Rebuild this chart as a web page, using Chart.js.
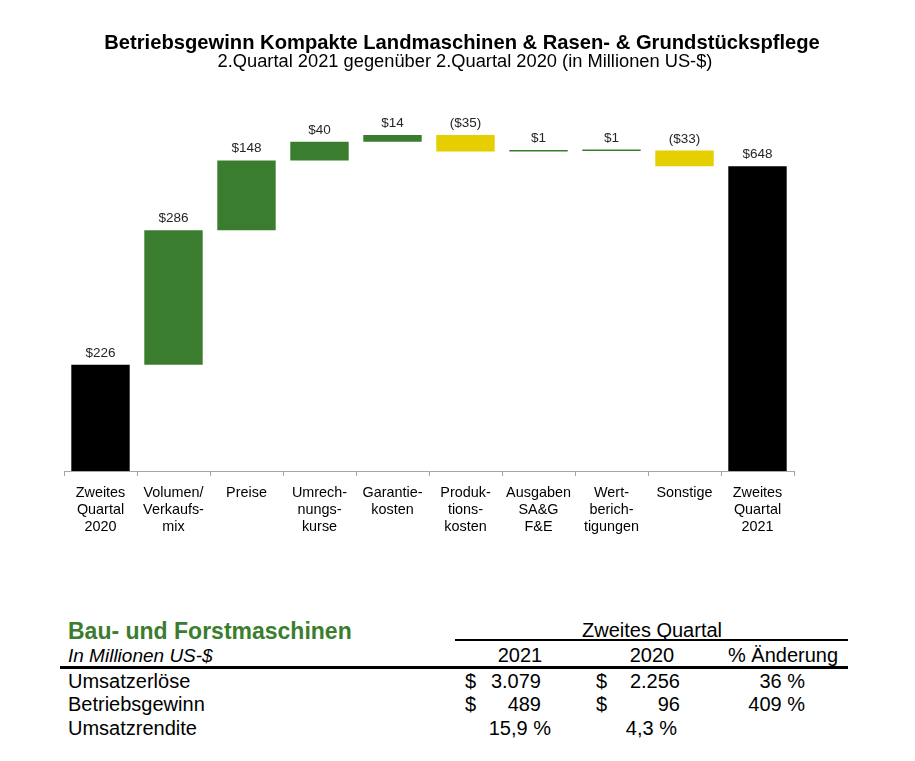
<!DOCTYPE html>
<html><head><meta charset="utf-8">
<script src="https://cdn.jsdelivr.net/npm/chart.js@4/dist/chart.umd.min.js"></script>
<style>
html,body{margin:0;padding:0;background:#fff;width:915px;height:761px;overflow:hidden;font-family:"Liberation Sans",Arial,sans-serif;color:#000}
#wrap{position:absolute;left:0;top:0;width:915px;height:545px}
.t{position:absolute;white-space:nowrap;font-size:20px;line-height:22px}
.r{text-align:right}
.c{text-align:center}
.ln{position:absolute;background:#000}
</style></head>
<body>
<div id="wrap"><canvas id="c"></canvas></div>
<div id="tbl"></div>
<script>
// ---- chart data ----
const chartTitle = "Betriebsgewinn Kompakte Landmaschinen & Rasen- & Grundstückspflege";
const chartSubtitle = "2.Quartal 2021 gegenüber 2.Quartal 2020 (in Millionen US-$)";
const categories = [
  ["Zweites","Quartal","2020"],
  ["Volumen/","Verkaufs-","mix"],
  ["Preise"],
  ["Umrech-","nungs-","kurse"],
  ["Garantie-","kosten"],
  ["Produk-","tions-","kosten"],
  ["Ausgaben","SA&G","F&E"],
  ["Wert-","berich-","tigungen"],
  ["Sonstige"],
  ["Zweites","Quartal","2021"]
];
const changes = [226, 286, 148, 40, 14, -35, 1, 1, -33, 648];
const isTotal = [true, false, false, false, false, false, false, false, false, true];
const valueLabels = ["$226","$286","$148","$40","$14","($35)","$1","$1","($33)","$648"];

// ---- table data ----
const tableTitle = "Bau- und Forstmaschinen";
const tableSubtitle = "In Millionen US-$";
const tableGroup = "Zweites Quartal";
const tableHeaders = ["2021","2020","% Änderung"];
const rowLabels = ["Umsatzerlöse","Betriebsgewinn","Umsatzrendite"];
const col2021 = ["3.079","489","15,9 %"];
const col2020 = ["2.256","96","4,3 %"];
const colChange = ["36 %","409 %",""];
const dollarSign = [true, true, false];

const GREEN = "#3b7d2e", YELLOW = "#e5cf00", BLACK = "#000000";
const FONT = '"Liberation Sans", Arial, sans-serif';

// floating ranges from the changes
let run = 0;
const ranges = [], colors = [];
changes.forEach((v,i)=>{
  if (isTotal[i]) { ranges.push([0, v]); run = v; colors.push(BLACK); }
  else { ranges.push([run, run + v]); run += v; colors.push(v >= 0 ? GREEN : YELLOW); }
});

const labelPlugin = {
  id: "vlabels",
  afterDatasetsDraw(chart){
    const ctx = chart.ctx;
    const meta = chart.getDatasetMeta(0);
    ctx.save();
    ctx.font = '13.5px ' + FONT;
    ctx.fillStyle = "#262626";
    ctx.textAlign = "center";
    ctx.textBaseline = "bottom";
    meta.data.forEach((el,i)=>{
      const top = Math.min(el.y, el.base);
      ctx.fillText(valueLabels[i], el.x, top - 5);
    });
    ctx.restore();
  }
};

// title texts (canvas, centred on the page)
const titlePlugin = {
  id: "pageTitle",
  afterDraw(chart){
    const ctx = chart.ctx;
    ctx.save();
    ctx.fillStyle = "#000";
    ctx.textAlign = "center";
    ctx.textBaseline = "middle";
    ctx.font = 'bold 20.2px ' + FONT;
    ctx.fillText(chartTitle, 462, 43);
    ctx.font = '18.3px ' + FONT;
    ctx.fillText(chartSubtitle, 465, 62);
    ctx.restore();
  }
};

new Chart(document.getElementById("c"), {
  type: "bar",
  data: {
    labels: categories,
    datasets: [{
      data: ranges,
      backgroundColor: colors,
      borderWidth: 0,
      categoryPercentage: 1,
      barPercentage: 0.8,
      minBarLength: 1.5
    }]
  },
  options: {
    responsive: true,
    maintainAspectRatio: false,
    animation: false,
    layout: { padding: { left: 64, right: 121, top: 90.4, bottom: 0 } },
    plugins: {
      legend: { display: false },
      tooltip: { enabled: false },
      title: { display: false },
      subtitle: { display: false }
    },
    scales: {
      x: {
        grid: { display: true, drawOnChartArea: false, drawTicks: true, tickLength: 5, color: "#a6a6a6", offset: true },
        border: { display: true, color: "#a6a6a6", width: 1 },
        ticks: {
          color: "#000",
          padding: 9,
          maxRotation: 0,
          autoSkip: false,
          font: { family: FONT, size: 14.4, lineHeight: 1.18 }
        }
      },
      y: {
        display: false,
        min: 0,
        max: 809,
        beginAtZero: true
      }
    }
  },
  plugins: [labelPlugin, titlePlugin]
});

// ---- table (HTML) ----
const T = document.getElementById("tbl");
function add(txt, cls, style){
  const d = document.createElement("div");
  d.className = "t " + (cls||"");
  d.textContent = txt;
  Object.assign(d.style, style);
  T.appendChild(d);
}
function line(x,y,w,h){
  const d = document.createElement("div");
  d.className = "ln";
  Object.assign(d.style,{left:x+"px",top:y+"px",width:w+"px",height:h+"px"});
  T.appendChild(d);
}
add(tableTitle, "", {left:"68px", top:"618px", fontSize:"23px", lineHeight:"26px", fontWeight:"bold", color:GREEN});
add(tableSubtitle, "", {left:"68px", top:"645px", fontSize:"19px", fontStyle:"italic"});
add(tableGroup, "c", {left:"552px", width:"200px", top:"619px"});
line(455, 639, 393, 2);
line(60, 666, 788, 3);
const hdrCenters = [520, 652, 783];
tableHeaders.forEach((h,i)=> add(h, "c", {left:(hdrCenters[i]-80)+"px", width:"160px", top:"644px"}));
const rowCenters = [681, 704, 728];
rowLabels.forEach((lab,i)=>{
  const top = (rowCenters[i]-11)+"px";
  add(lab, "", {left:"68px", top});
  if (dollarSign[i]) {
    add("$", "", {left:"465px", top});
    add("$", "", {left:"596px", top});
    add(col2021[i], "r", {left:"441px", width:"100px", top});
    add(col2020[i], "r", {left:"580px", width:"100px", top});
  } else {
    add(col2021[i], "r", {left:"451px", width:"100px", top});
    add(col2020[i], "r", {left:"577px", width:"100px", top});
  }
  if (colChange[i]) add(colChange[i], "r", {left:"705px", width:"100px", top});
});
</script>
</body></html>
